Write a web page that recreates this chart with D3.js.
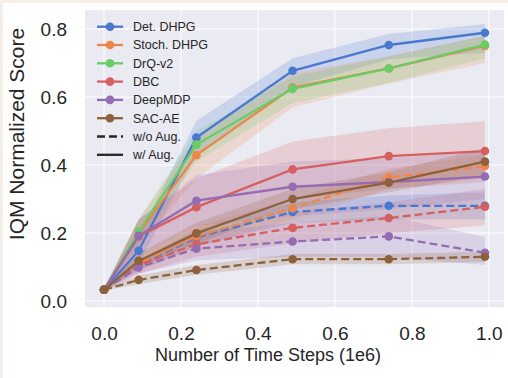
<!DOCTYPE html>
<html><head><meta charset="utf-8">
<script src="https://cdn.jsdelivr.net/npm/d3@7"></script>
<style>body{margin:0;background:#fff}svg{display:block}text{font-family:"Liberation Sans",Arial,sans-serif;fill:#262626}</style>
</head><body><svg id="c" width="508" height="378"></svg>
<script>
const steps = [0, 0.09, 0.24, 0.49, 0.74, 0.99];
const methods = ["Det. DHPG", "Stoch. DHPG", "DrQ-v2", "DBC", "DeepMDP", "SAC-AE"];
const colors = ["#4878d0", "#ee854a", "#6acc64", "#d65f5f", "#956cb4", "#8c613c"];
const xTicks = [0, 0.2, 0.4, 0.6, 0.8, 1.0];
const yTicks = [0, 0.2, 0.4, 0.6, 0.8];
// w/ Aug. (solid)
const withAug = [
  [0.033, 0.148, 0.481, 0.677, 0.753, 0.789],
  [0.033, 0.200, 0.429, 0.628, 0.684, 0.750],
  [0.033, 0.204, 0.460, 0.624, 0.684, 0.754],
  [0.033, 0.190, 0.276, 0.387, 0.426, 0.441],
  [0.033, 0.192, 0.295, 0.336, 0.350, 0.366],
  [0.033, 0.118, 0.199, 0.300, 0.348, 0.410]
];
const withAugLo = [
  [0.030, 0.110, 0.430, 0.630, 0.710, 0.730],
  [0.030, 0.160, 0.360, 0.570, 0.640, 0.700],
  [0.030, 0.170, 0.410, 0.582, 0.641, 0.714],
  [0.030, 0.130, 0.200, 0.300, 0.330, 0.350],
  [0.030, 0.130, 0.220, 0.250, 0.270, 0.300],
  [0.030, 0.100, 0.170, 0.270, 0.320, 0.370]
];
const withAugHi = [
  [0.036, 0.190, 0.530, 0.714, 0.785, 0.815],
  [0.036, 0.240, 0.480, 0.670, 0.720, 0.780],
  [0.036, 0.240, 0.500, 0.660, 0.720, 0.780],
  [0.036, 0.240, 0.360, 0.469, 0.508, 0.529],
  [0.036, 0.240, 0.370, 0.410, 0.420, 0.440],
  [0.036, 0.140, 0.230, 0.330, 0.380, 0.450]
];
// w/o Aug. (dashed)
const noAug = [
  [0.033, 0.106, 0.187, 0.262, 0.280, 0.280],
  [0.033, 0.110, 0.190, 0.273, 0.363, 0.397],
  null,
  [0.033, 0.105, 0.167, 0.215, 0.244, 0.277],
  [0.033, 0.099, 0.154, 0.175, 0.190, 0.142],
  [0.033, 0.062, 0.091, 0.123, 0.123, 0.130]
];
const noAugLo = [
  [0.030, 0.090, 0.160, 0.230, 0.240, 0.240],
  [0.030, 0.090, 0.160, 0.240, 0.330, 0.360],
  null,
  [0.030, 0.080, 0.130, 0.170, 0.200, 0.222],
  [0.030, 0.080, 0.120, 0.130, 0.130, 0.106],
  [0.030, 0.050, 0.077, 0.108, 0.108, 0.115]
];
const noAugHi = [
  [0.036, 0.120, 0.210, 0.290, 0.310, 0.320],
  [0.036, 0.130, 0.220, 0.300, 0.390, 0.430],
  null,
  [0.036, 0.130, 0.200, 0.260, 0.290, 0.330],
  [0.036, 0.120, 0.200, 0.230, 0.250, 0.188],
  [0.036, 0.075, 0.106, 0.138, 0.138, 0.145]
];

const svg = d3.select("#c");
svg.append("rect").attr("width",508).attr("height",378).attr("fill","#fff");
svg.append("rect").attr("width",508).attr("height",3).attr("fill","#f5efe8");
svg.append("rect").attr("width",3).attr("height",378).attr("fill","#f5efe8");

const x = d3.scaleLinear().domain([-0.0495, 1.0395]).range([85, 504]);
const y = d3.scaleLinear().domain([-0.01765, 0.8559]).range([307, 10]);

svg.append("rect").attr("x",85).attr("y",10).attr("width",419).attr("height",297).attr("fill","#eaeaf2");
const grid = svg.append("g");
xTicks.forEach(t=>grid.append("line").attr("x1",x(t)).attr("x2",x(t)).attr("y1",10).attr("y2",307).attr("stroke","#fff").attr("stroke-width",1));
yTicks.forEach(t=>grid.append("line").attr("y1",y(t)).attr("y2",y(t)).attr("x1",85).attr("x2",504).attr("stroke","#fff").attr("stroke-width",1));

const xAxis = d3.axisBottom(x).tickValues(xTicks).tickFormat(d3.format(".1f")).tickSize(0).tickPadding(0);
const gx = svg.append("g").attr("transform","translate(0,325)").call(xAxis);
gx.select(".domain").remove();
gx.selectAll("text").attr("font-size",19).attr("dy","0.8em").style("font-family","Liberation Sans, Arial, sans-serif").attr("fill","#262626");
const yAxis = d3.axisLeft(y).tickValues(yTicks).tickFormat(d3.format(".1f")).tickSize(0).tickPadding(0);
const gy = svg.append("g").attr("transform","translate(67,0)").call(yAxis);
gy.select(".domain").remove();
gy.selectAll("text").attr("font-size",19).attr("dy","0.35em").style("font-family","Liberation Sans, Arial, sans-serif").attr("fill","#262626");

svg.append("text").attr("x",268).attr("y",361).attr("text-anchor","middle").attr("font-size",18).text("Number of Time Steps (1e6)");
svg.append("text").attr("transform","translate(24,134) rotate(-90)").attr("text-anchor","middle").attr("font-size",21).text("IQM Normalized Score");

const area = d3.area().x((d,i)=>x(steps[i])).y0(d=>y(d[0])).y1(d=>y(d[1]));
const line = d3.line().x((d,i)=>x(steps[i])).y(d=>y(d));
const bands = svg.append("g"), lines = svg.append("g");
const dashPat = "8,4";
methods.forEach((m,k)=>{
  const series = [];
  if (noAug[k]) series.push({v:noAug[k], lo:noAugLo[k], hi:noAugHi[k], dash:dashPat});
  series.push({v:withAug[k], lo:withAugLo[k], hi:withAugHi[k], dash:null});
  series.forEach(s=>{
    bands.append("path").datum(s.lo.map((l,i)=>[l,s.hi[i]])).attr("d",area).attr("fill",colors[k]).attr("opacity",0.2);
    const p = lines.append("path").datum(s.v).attr("d",line).attr("fill","none").attr("stroke",colors[k]).attr("stroke-width",2.3);
    if (s.dash) p.attr("stroke-dasharray",s.dash);
    lines.selectAll(null).data(s.v).enter().append("circle").attr("cx",(d,i)=>x(steps[i])).attr("cy",d=>y(d)).attr("r",4.3).attr("fill",colors[k]);
  });
});

// legend
const lg = svg.append("g");
const rowY = i => 26.7 + i*18.3;
methods.forEach((m,i)=>{
  lg.append("line").attr("x1",97).attr("x2",123).attr("y1",rowY(i)).attr("y2",rowY(i)).attr("stroke",colors[i]).attr("stroke-width",2.3);
  lg.append("circle").attr("cx",110).attr("cy",rowY(i)).attr("r",4.3).attr("fill",colors[i]);
  lg.append("text").attr("x",133).attr("y",rowY(i)).attr("dy","0.35em").attr("font-size",12.5).text(m);
});
const styles = [["w/o Aug.",dashPat],["w/ Aug.",null]];
styles.forEach((s,j)=>{
  const i = methods.length + j;
  const l = lg.append("line").attr("x1",97).attr("x2",123).attr("y1",rowY(i)).attr("y2",rowY(i)).attr("stroke","#262626").attr("stroke-width",2.3);
  if (s[1]) l.attr("stroke-dasharray",s[1]);
  lg.append("text").attr("x",133).attr("y",rowY(i)).attr("dy","0.35em").attr("font-size",12.5).text(s[0]);
});
</script></body></html>
